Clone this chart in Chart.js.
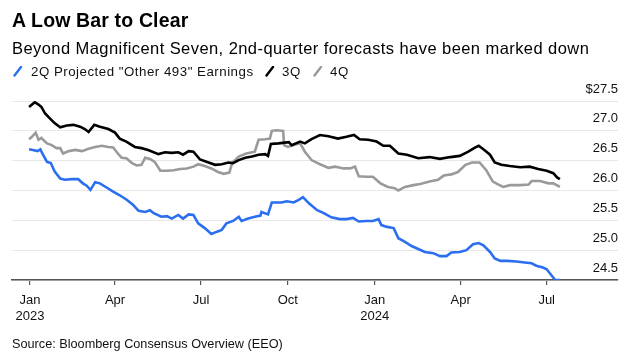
<!DOCTYPE html>
<html><head><meta charset="utf-8">
<script src="https://cdn.jsdelivr.net/npm/chart.js@4.4.1/dist/chart.umd.min.js"></script>
<style>
html,body{margin:0;padding:0;background:#fff;}
#wrap{position:relative;width:640px;height:360px;overflow:hidden;font-family:"Liberation Sans",Arial,sans-serif;color:#000;}
#c{position:absolute;left:0;top:0;}
.t{position:absolute;white-space:nowrap;line-height:1;}
#title{left:12px;top:11px;font-size:19.5px;font-weight:bold;letter-spacing:0.15px;}
#sub{left:12px;top:39.5px;font-size:16.5px;letter-spacing:0.43px;}
.lg{top:65px;font-size:13.3px;color:#111;letter-spacing:0.5px;}
.mk{position:absolute;top:66px;}
#src{left:12px;top:338px;font-size:12.7px;color:#111;}
</style></head><body>
<div id="wrap">
<canvas id="c" width="640" height="360"></canvas>
<div class="t" id="title">A Low Bar to Clear</div>
<div class="t" id="sub">Beyond Magnificent Seven, 2nd-quarter forecasts have been marked down</div>
<svg class="mk" style="left:13px" width="10" height="11"><line x1="1.5" y1="9.5" x2="8" y2="1" stroke="#2b6ff0" stroke-width="2.4" stroke-linecap="round"/></svg>
<div class="t lg" style="left:31px">2Q Projected "Other 493" Earnings</div>
<svg class="mk" style="left:265px" width="10" height="11"><line x1="1.5" y1="9.5" x2="8" y2="1" stroke="#000" stroke-width="2.4" stroke-linecap="round"/></svg>
<div class="t lg" style="left:282px">3Q</div>
<svg class="mk" style="left:313px" width="10" height="11"><line x1="1.5" y1="9.5" x2="8" y2="1" stroke="#9a9a9a" stroke-width="2.4" stroke-linecap="round"/></svg>
<div class="t lg" style="left:330px">4Q</div>
<div class="t" id="src">Source: Bloomberg Consensus Overview (EEO)</div>
</div>
<script>
// x values are days since 2023-01-01
const tickDays = [0, 90, 181, 273, 365, 456, 547];
const tickLabels = [["Jan","2023"],["Apr"],["Jul"],["Oct"],["Jan","2024"],["Apr"],["Jul"]];
const yTicks = [24.5, 25.0, 25.5, 26.0, 26.5, 27.0, 27.5];

const q2Days = [-1,3,8,11,13,18,22,26,32,37,44,51,56,60,64,69,74,81,88,95,102,109,115,122,127,131,139,145,150,157,162,168,173,178,185,192,198,203,208,215,221,224,231,238,244,245,252,256,261,266,272,279,284,289,295,304,311,319,328,335,342,348,356,363,369,372,378,385,390,397,404,411,418,427,434,441,446,455,462,469,475,480,487,492,498,505,515,526,531,536,543,547,552,556,561];
const q2Vals = [26.69,26.68,26.66,26.69,26.62,26.48,26.46,26.32,26.20,26.18,26.19,26.19,26.12,26.08,26.01,26.14,26.12,26.05,25.98,25.92,25.85,25.76,25.66,25.64,25.67,25.62,25.56,25.57,25.53,25.59,25.53,25.60,25.59,25.45,25.37,25.27,25.31,25.34,25.45,25.49,25.56,25.49,25.53,25.56,25.58,25.64,25.60,25.80,25.80,25.80,25.82,25.80,25.84,25.89,25.79,25.67,25.62,25.55,25.52,25.52,25.54,25.48,25.49,25.49,25.52,25.42,25.39,25.37,25.20,25.14,25.07,25.02,24.97,24.95,24.90,24.90,24.96,24.97,25.00,25.10,25.12,25.08,24.97,24.86,24.82,24.82,24.81,24.79,24.78,24.74,24.71,24.68,24.58,24.50,24.50];

const q3Days = [-1,5,9,12,16,21,26,32,39,46,53,58,62,68,74,83,90,95,102,111,118,125,136,143,150,157,162,168,173,180,189,196,203,210,215,221,228,235,242,249,252,255,263,274,277,286,291,298,307,316,326,335,343,349,358,367,374,381,390,399,411,423,434,445,455,464,471,475,480,487,492,499,508,519,529,538,547,554,558,561];
const q3Vals = [27.40,27.48,27.44,27.40,27.29,27.21,27.13,27.06,27.09,27.10,27.07,27.03,26.98,27.10,27.07,27.03,26.97,26.87,26.82,26.73,26.71,26.68,26.61,26.64,26.63,26.64,26.60,26.66,26.65,26.52,26.47,26.43,26.44,26.47,26.46,26.51,26.55,26.57,26.60,26.61,26.58,26.78,26.79,26.81,26.76,26.82,26.79,26.86,26.93,26.91,26.87,26.90,26.93,26.86,26.85,26.82,26.75,26.75,26.62,26.60,26.54,26.56,26.53,26.56,26.58,26.65,26.72,26.75,26.69,26.60,26.47,26.43,26.41,26.39,26.40,26.36,26.33,26.29,26.22,26.19];

const q4Days = [-1,2,6,9,12,18,23,28,32,35,41,48,55,62,69,76,83,88,93,97,102,108,113,118,122,127,132,138,145,152,159,166,173,178,185,192,199,205,211,214,221,229,238,242,249,254,256,261,268,269,273,281,286,291,298,307,316,323,332,339,344,348,356,363,371,379,386,390,397,406,413,423,432,438,446,453,461,468,476,483,490,496,501,508,519,528,531,540,549,554,561];
const q4Vals = [26.86,26.90,26.97,26.85,26.88,26.79,26.76,26.71,26.71,26.62,26.66,26.68,26.66,26.70,26.73,26.75,26.73,26.72,26.62,26.55,26.54,26.46,26.42,26.43,26.55,26.53,26.48,26.33,26.33,26.34,26.36,26.37,26.40,26.44,26.41,26.37,26.31,26.28,26.30,26.46,26.57,26.62,26.65,26.85,26.86,26.87,27.00,27.01,27.00,26.76,26.73,26.77,26.79,26.65,26.51,26.44,26.38,26.40,26.37,26.37,26.40,26.24,26.23,26.23,26.12,26.06,26.04,26.00,26.06,26.09,26.11,26.15,26.18,26.25,26.27,26.31,26.43,26.47,26.47,26.34,26.15,26.10,26.06,26.09,26.09,26.10,26.16,26.16,26.12,26.12,26.06];

function pts(d, v){ const n=Math.min(d.length,v.length); const o=[]; for(let i=0;i<n;i++) o.push({x:d[i],y:v[i]}); return o; }

const FONT = '"Liberation Sans", Arial, sans-serif';
new Chart(document.getElementById('c'), {
  type: 'line',
  data: { datasets: [
    { label: '2Q Projected "Other 493" Earnings', data: pts(q2Days,q2Vals), borderColor:'#2b6ff0', borderWidth:2.6, pointRadius:0, tension:0 },
    { label: '3Q', data: pts(q3Days,q3Vals), borderColor:'#000000', borderWidth:2.6, pointRadius:0, tension:0 },
    { label: '4Q', data: pts(q4Days,q4Vals), borderColor:'#9a9a9a', borderWidth:2.6, pointRadius:0, tension:0 }
  ]},
  options: {
    responsive:false, animation:false, devicePixelRatio:1,
    layout:{ padding:{ left:12, right:22, top:101, bottom:0 } },
    plugins:{ legend:{display:false}, tooltip:{enabled:false}, title:{display:false} },
    scales:{
      x:{ type:'linear', min:-19.06, max:622.5,
        afterBuildTicks:(s)=>{ s.ticks = tickDays.map(v=>({value:v})); },
        afterFit:(s)=>{ s.height = 80; },
        grid:{ drawOnChartArea:false, drawTicks:true, tickLength:5, color:'#555', lineWidth:1.2 },
        border:{ display:true, color:'#555', width:1.6 },
        ticks:{ autoSkip:false, maxRotation:0, padding:7, color:'#111', font:{family:FONT, size:13, lineHeight:1.23},
          callback:(v,i)=>tickLabels[i] }
      },
      y:{ position:'right', min:24.5, max:27.5,
        afterBuildTicks:(s)=>{ s.ticks = yTicks.map(v=>({value:v})); },
        grid:{ color:'#e8e8e8', lineWidth:1, drawTicks:false },
        border:{ display:false },
        ticks:{ mirror:true, padding:0, labelOffset:-12, color:'#111', font:{family:FONT, size:13},
          callback:(v)=> v===27.5 ? '$27.5' : v.toFixed(1) }
      }
    }
  }
});
</script>
</body></html>
